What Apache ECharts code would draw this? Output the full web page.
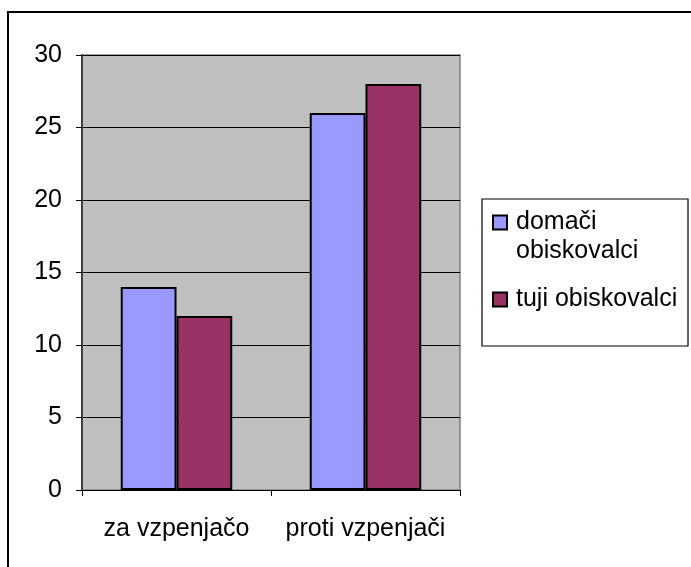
<!DOCTYPE html>
<html><head><meta charset="utf-8">
<script src="https://cdn.jsdelivr.net/npm/echarts@6/dist/echarts.min.js"></script>
<style>html,body{margin:0;padding:0;background:#fff}#c{width:691px;height:567px}</style>
</head><body><div id="c"></div>
<script>
const categories = ['za vzpenjačo', 'proti vzpenjači'];
const seriesNames = ['domači obiskovalci', 'tuji obiskovalci'];
const domaci = [14, 26];
const tuji = [12, 28];
const yTicks = [0, 5, 10, 15, 20, 25, 30];

const FONT = 'Liberation Sans, Arial, sans-serif';
const chart = echarts.init(document.getElementById('c'), null, {renderer: 'canvas'});
chart.setOption({
  animation: false,
  backgroundColor: '#fff',
  textStyle: {fontFamily: FONT},
  grid: {left: 82, right: 231, top: 55, bottom: 77, show: true, backgroundColor: '#C0C0C0', borderColor: '#808080', borderWidth: 1.5},
  graphic: [
    {type: 'rect', z: -10, shape: {x: 8, y: 12, width: 720, height: 600}, style: {fill: 'none', stroke: '#000', lineWidth: 2}},
    {type: 'rect', z: -5, shape: {x: 482, y: 199, width: 206, height: 147}, style: {fill: '#fff', stroke: '#000', lineWidth: 1.2}}
  ],
  xAxis: {
    type: 'category', data: categories,
    axisLine: {lineStyle: {color: '#000', width: 1}},
    axisTick: {show: true, length: 6, lineStyle: {color: '#000'}},
    axisLabel: {color: '#000', fontSize: 25, fontFamily: FONT, margin: 27, interval: 0},
    splitLine: {show: false}
  },
  yAxis: {
    type: 'value', min: yTicks[0], max: yTicks[yTicks.length - 1], interval: 5,
    axisLine: {show: true, lineStyle: {color: '#404040', width: 2}},
    axisTick: {show: true, length: 6, lineStyle: {color: '#000'}},
    axisLabel: {color: '#000', fontSize: 25, fontFamily: FONT, margin: 20},
    splitLine: {show: true, lineStyle: {color: '#000', width: 1}}
  },
  legend: [
    {
      data: [seriesNames[0]], left: 492, top: 207, padding: 0,
      orient: 'vertical', itemWidth: 14, itemHeight: 58,
      icon: 'path://M0,0M0,7.5L14,7.5L14,21.5L0,21.5ZM0,58',
      formatter: n => 'domači\nobiskovalci',
      textStyle: {fontSize: 25, fontFamily: FONT, color: '#000', lineHeight: 29, padding: [0, 0, 0, 4]}
    },
    {
      data: [seriesNames[1]], left: 492, top: 287, padding: 0,
      orient: 'vertical', itemWidth: 14, itemHeight: 14, icon: 'rect',
      textStyle: {fontSize: 25, fontFamily: FONT, color: '#000', padding: [0, 0, 0, 4]}
    }
  ],
  series: [
    {name: seriesNames[0], type: 'bar', data: domaci, barGap: '0%', barCategoryGap: '41%',
     itemStyle: {color: '#9999FF', borderColor: '#000', borderWidth: 2}},
    {name: seriesNames[1], type: 'bar', data: tuji, barGap: '0%', barCategoryGap: '41%',
     itemStyle: {color: '#993366', borderColor: '#000', borderWidth: 2}}
  ]
});
</script></body></html>
